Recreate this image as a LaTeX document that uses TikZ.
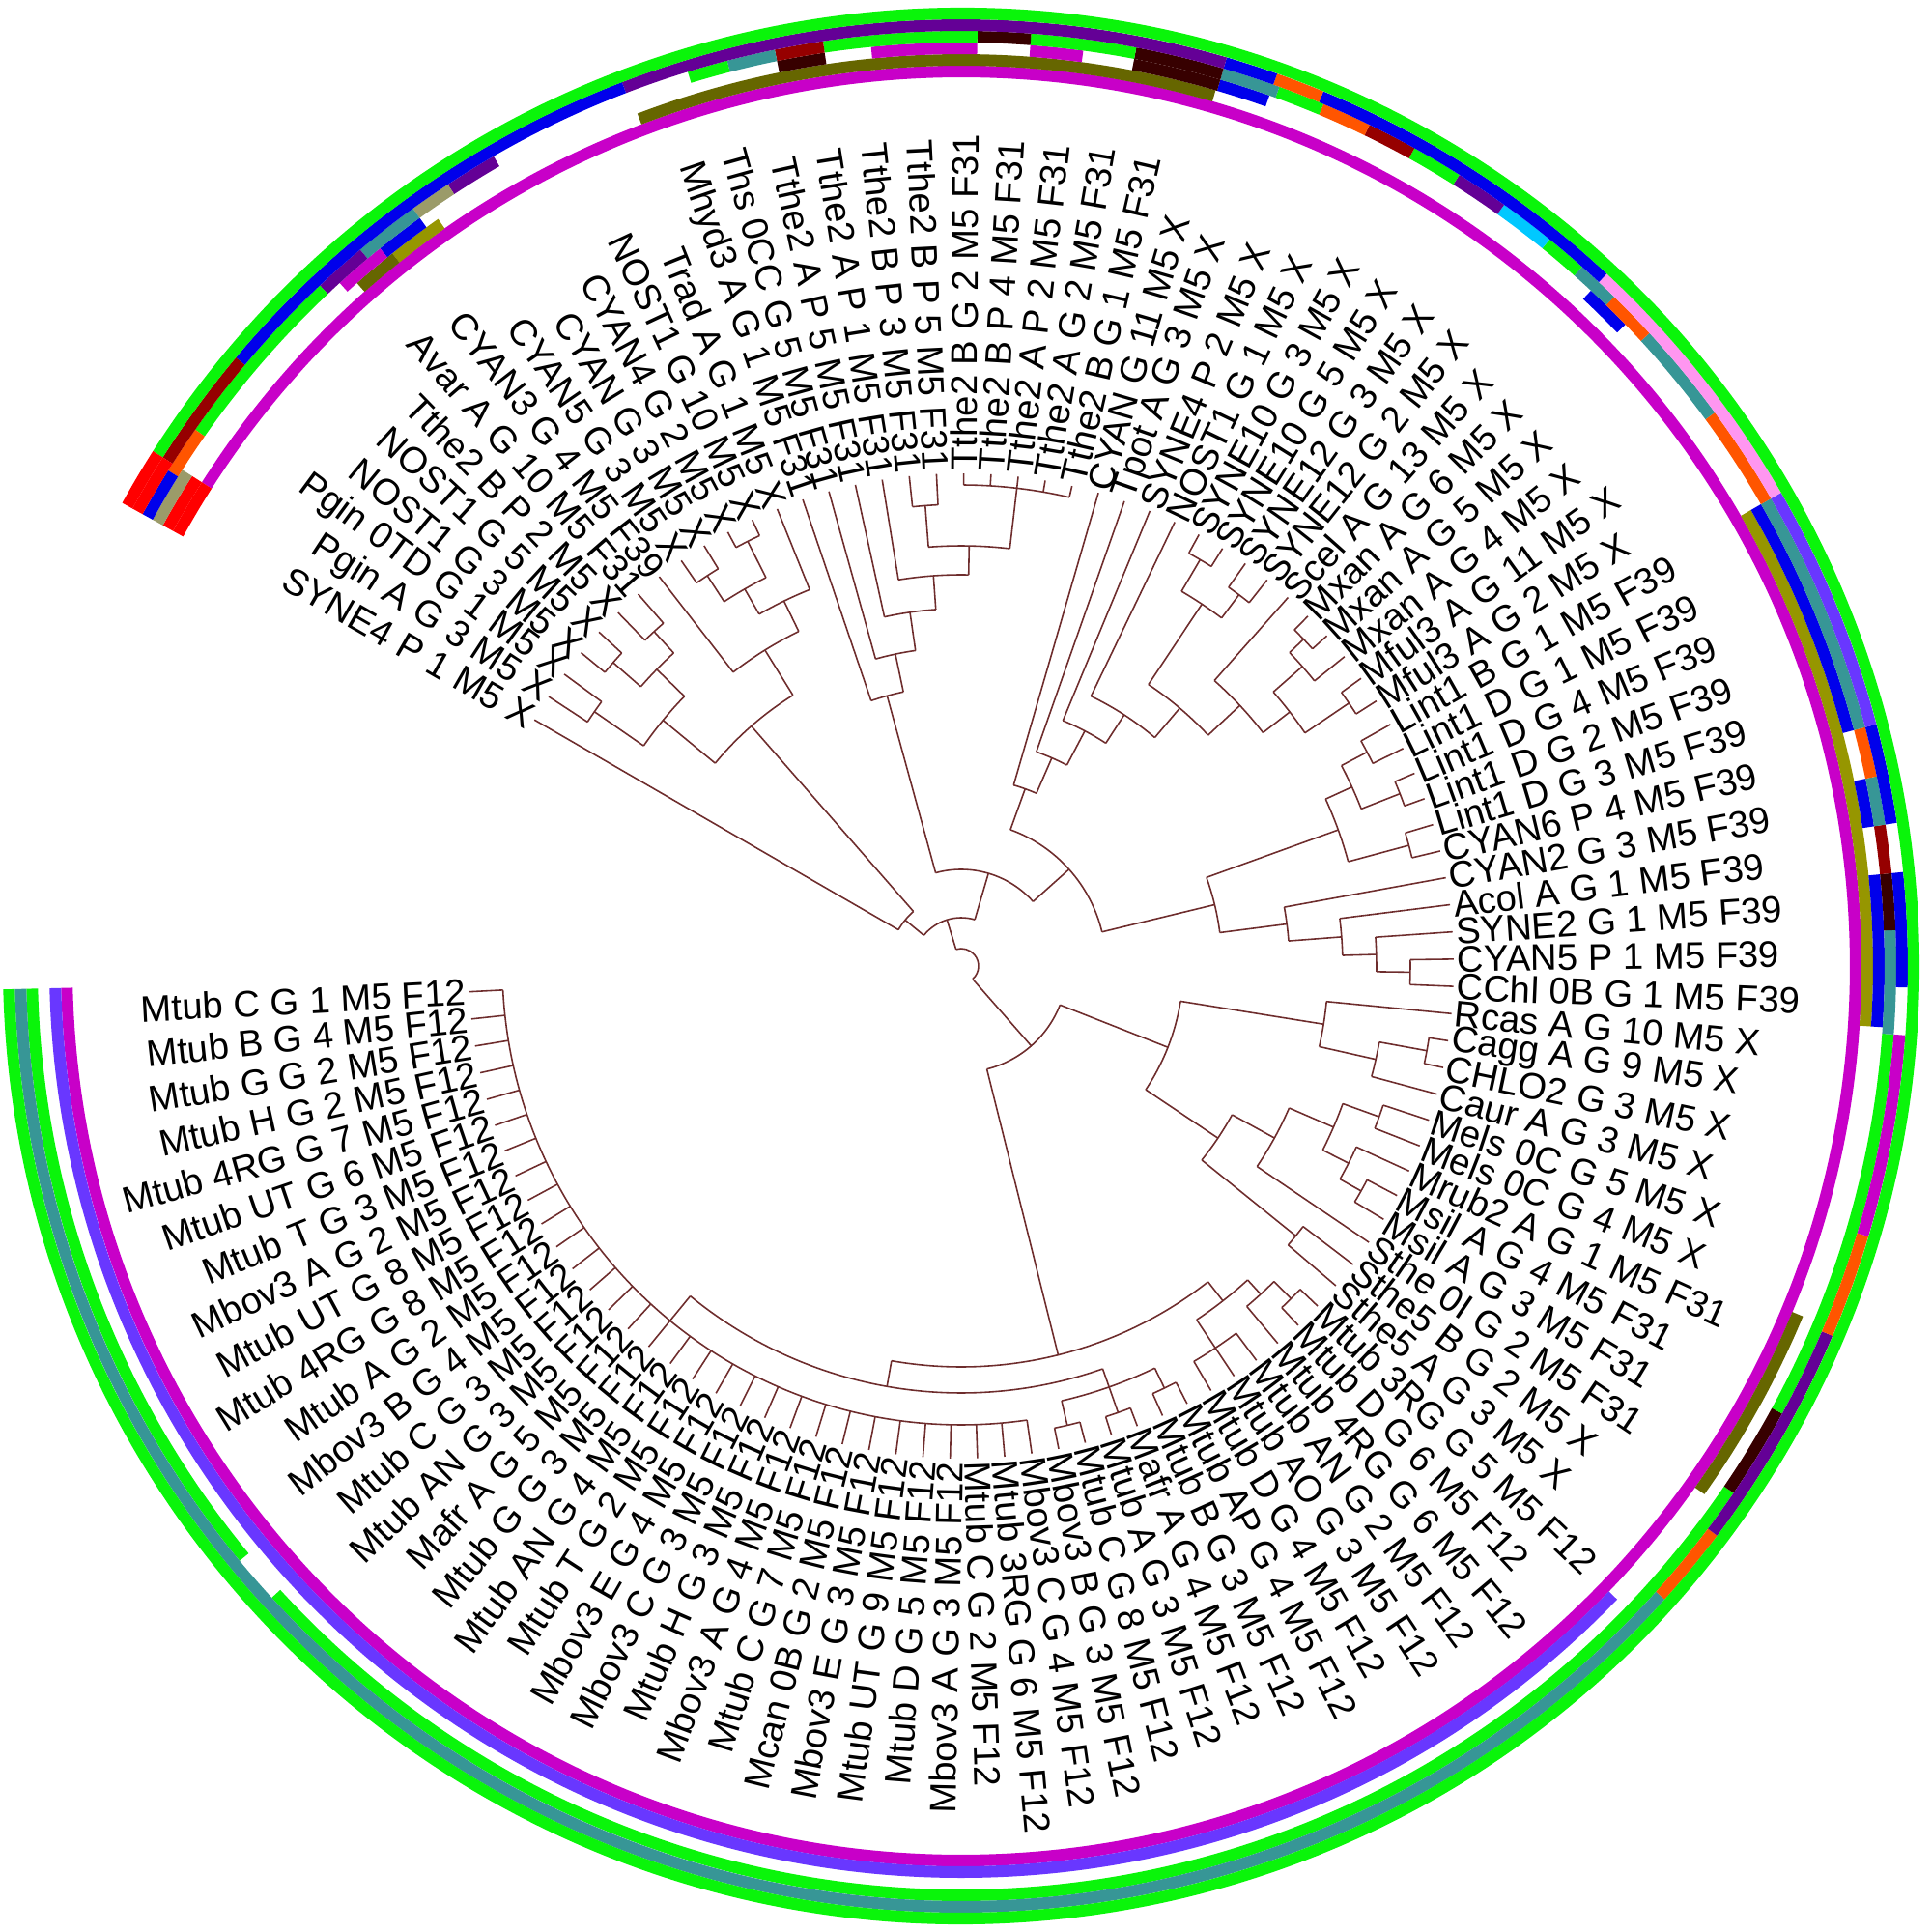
\documentclass[tikz,border=0pt]{standalone}
\usepackage{fontspec}
\setmainfont{Liberation Sans}

\definecolor{treebrown}{RGB}{110,45,45}
\definecolor{ringgreen}{RGB}{10,245,10}
\definecolor{ringmag}{RGB}{200,0,200}
\definecolor{ringviolet}{RGB}{105,55,255}
\definecolor{ringteal}{RGB}{55,150,150}
\definecolor{ringolive}{RGB}{102,102,0}
\definecolor{ringolivel}{RGB}{150,150,0}
\definecolor{ringpurple}{RGB}{100,0,150}
\definecolor{ringblue}{RGB}{0,0,235}
\definecolor{ringorange}{RGB}{255,85,0}
\definecolor{ringmaroon}{RGB}{150,0,0}
\definecolor{ringdark}{RGB}{55,0,0}
\definecolor{ringpink}{RGB}{255,150,240}
\definecolor{ringcyan}{RGB}{0,200,255}
\definecolor{ringkhaki}{RGB}{155,155,105}
\definecolor{ringred}{RGB}{255,0,0}

\tikzset{
  branch/.style={treebrown, line width=0.45pt},
  lbl/.style={inner sep=0.8pt, font=\fontsize{10.9}{12}\selectfont},
}
\def\tipr{5.1}

% leaf: index, label
\newcommand{\leaf}[2]{%
  \pgfmathsetmacro\ang{183+(#1-1)*3.175}%
  \expandafter\xdef\csname angXl#1\endcsname{\ang}%
  \coordinate (l#1) at (\ang:\tipr);
  \pgfmathtruncatemacro\flip{(\ang<270)||(\ang>450)}%
  \ifnum\flip=1
    \pgfmathsetmacro\rot{\ang-180}%
    \node[lbl,anchor=east,rotate=\rot] (L#1) at (l#1) {#2};
  \else
    \node[lbl,anchor=west,rotate=\ang] (L#1) at (l#1) {#2};
  \fi
}
% clade: name, radius, children
\newcommand{\clade}[3]{%
  \foreach \c [count=\k] in {#3} {\ifnum\k=1 \xdef\cfirst{\c}\fi \xdef\clast{\c}}%
  \pgfmathsetmacro\aA{\csname angX\cfirst\endcsname}%
  \pgfmathsetmacro\aB{\csname angX\clast\endcsname}%
  \pgfmathsetmacro\aM{(\aA+\aB)/2}%
  \expandafter\xdef\csname angX#1\endcsname{\aM}%
  \coordinate (#1) at (\aM:#2);
  \draw[branch] (\aA:#2) arc[start angle=\aA, end angle=\aB, radius=#2];
  \foreach \c in {#3} {%
    \pgfmathsetmacro\aC{\csname angX\c\endcsname}%
    \draw[branch] (\aC:#2) -- (\c);
  }%
}
% ring cell: track, from, to, colour
\newcommand{\trk}[4]{%
  \pgfmathsetmacro\ri{9.08+#1*0.12}%
  \pgfmathsetmacro\ro{\ri+0.12}%
  \fill[#4] (#2:\ri) arc[start angle=#2, end angle=#3, radius=\ri] -- (#3:\ro) arc[start angle=#3, end angle=#2, radius=\ro] -- cycle;
}

\begin{document}
\begin{tikzpicture}
\useasboundingbox (-9.95,-10) rectangle (10.05,10);

% rings
\trk{1}{181.4}{507.5}{ringmag}
\trk{1}{507.5}{511.1}{ringred}

\trk{2}{181.4}{316}{ringviolet}
\trk{2}{324.6}{337.4}{ringolive}
\trk{2}{356.2}{390}{ringolivel}
\trk{2}{433.8}{470.8}{ringolive}
\trk{2}{485}{488.6}{ringolivel}
\trk{2}{488.6}{491.5}{ringolive}
\trk{2}{507.5}{511.1}{ringred}

\trk{3}{356.2}{365.7}{ringblue}
\trk{3}{368.7}{371.7}{ringblue}
\trk{3}{374.8}{390}{ringblue}
\trk{3}{404}{407}{ringblue}
\trk{3}{430.5}{433.7}{ringblue}
\trk{3}{433.7}{439.2}{ringdark}
\trk{3}{442.4}{445.7}{ringmag}
\trk{3}{449}{455.6}{ringmag}
\trk{3}{458.5}{461.5}{ringdark}
\trk{3}{485.9}{489}{ringblue}
\trk{3}{489}{492.3}{ringmag}
\trk{3}{507.5}{511.1}{ringkhaki}

\trk{4}{181.4}{219.5}{ringgreen}
\trk{4}{222.5}{325.7}{ringgreen}
\trk{4}{325.7}{331.4}{ringdark}
\trk{4}{331.4}{355.8}{ringgreen}
\trk{4}{355.8}{362.2}{ringteal}
\trk{4}{362.2}{365.7}{ringdark}
\trk{4}{365.7}{368.7}{ringmaroon}
\trk{4}{368.7}{371.7}{ringteal}
\trk{4}{371.7}{374.8}{ringorange}
\trk{4}{374.8}{390}{ringteal}
\trk{4}{390}{396.3}{ringorange}
\trk{4}{396.3}{402.6}{ringteal}
\trk{4}{402.6}{405.7}{ringorange}
\trk{4}{405.7}{408.4}{ringteal}
\trk{4}{408.4}{411}{ringgreen}
\trk{4}{411}{414.5}{ringcyan}
\trk{4}{414.5}{417.8}{ringpurple}
\trk{4}{417.8}{421}{ringgreen}
\trk{4}{421}{424.1}{ringmaroon}
\trk{4}{424.1}{427.2}{ringorange}
\trk{4}{427.2}{430.1}{ringgreen}
\trk{4}{430.1}{433.7}{ringteal}
\trk{4}{433.7}{439.2}{ringdark}
\trk{4}{439.2}{445.7}{ringgreen}
\trk{4}{445.7}{449}{ringdark}
\trk{4}{449}{458.5}{ringgreen}
\trk{4}{458.5}{461.5}{ringmaroon}
\trk{4}{461.5}{464.5}{ringteal}
\trk{4}{464.5}{467}{ringgreen}
\trk{4}{480}{483.3}{ringpurple}
\trk{4}{483.3}{485.9}{ringkhaki}
\trk{4}{485.9}{490}{ringteal}
\trk{4}{490}{493.3}{ringpurple}
\trk{4}{493.3}{505}{ringgreen}
\trk{4}{505}{508}{ringorange}
\trk{4}{508}{511.1}{ringblue}

\trk{5}{181.4}{318}{ringteal}
\trk{5}{318}{323}{ringorange}
\trk{5}{323}{337}{ringpurple}
\trk{5}{337}{343.4}{ringorange}
\trk{5}{343.4}{355.8}{ringmag}
\trk{5}{358.7}{365.7}{ringblue}
\trk{5}{368.7}{374.8}{ringblue}
\trk{5}{374.8}{390}{ringviolet}
\trk{5}{390}{407}{ringpink}
\trk{5}{407}{427.5}{ringblue}
\trk{5}{427.5}{430.5}{ringorange}
\trk{5}{430.5}{433.7}{ringblue}
\trk{5}{433.7}{471}{ringpurple}
\trk{5}{471}{500}{ringblue}
\trk{5}{500}{507.5}{ringmaroon}
\trk{5}{507.5}{511.1}{ringred}

\trk{6}{181.4}{507.5}{ringgreen}
\trk{6}{507.5}{511.1}{ringred}

% leaves
\leaf{1}{Mtub C G 1 M5 F12}
\leaf{2}{Mtub B G 4 M5 F12}
\leaf{3}{Mtub G G 2 M5 F12}
\leaf{4}{Mtub H G 2 M5 F12}
\leaf{5}{Mtub 4RG G 7 M5 F12}
\leaf{6}{Mtub UT G 6 M5 F12}
\leaf{7}{Mtub T G 3 M5 F12}
\leaf{8}{Mbov3 A G 2 M5 F12}
\leaf{9}{Mtub UT G 8 M5 F12}
\leaf{10}{Mtub 4RG G 8 M5 F12}
\leaf{11}{Mtub A G 2 M5 F12}
\leaf{12}{Mbov3 B G 4 M5 F12}
\leaf{13}{Mtub C G 3 M5 F12}
\leaf{14}{Mtub AN G 3 M5 F12}
\leaf{15}{Mafr A G 5 M5 F12}
\leaf{16}{Mtub G G 3 M5 F12}
\leaf{17}{Mtub AN G 4 M5 F12}
\leaf{18}{Mtub T G 2 M5 F12}
\leaf{19}{Mbov3 E G 4 M5 F12}
\leaf{20}{Mbov3 C G 3 M5 F12}
\leaf{21}{Mtub H G 3 M5 F12}
\leaf{22}{Mbov3 A G 4 M5 F12}
\leaf{23}{Mtub C G 7 M5 F12}
\leaf{24}{Mcan 0B G 2 M5 F12}
\leaf{25}{Mbov3 E G 3 M5 F12}
\leaf{26}{Mtub UT G 9 M5 F12}
\leaf{27}{Mtub D G 5 M5 F12}
\leaf{28}{Mbov3 A G 3 M5 F12}
\leaf{29}{Mtub C G 2 M5 F12}
\leaf{30}{Mtub 3RG G 6 M5 F12}
\leaf{31}{Mbov3 C G 4 M5 F12}
\leaf{32}{Mbov3 B G 3 M5 F12}
\leaf{33}{Mtub C G 8 M5 F12}
\leaf{34}{Mtub A G 3 M5 F12}
\leaf{35}{Mafr A G 4 M5 F12}
\leaf{36}{Mtub B G 3 M5 F12}
\leaf{37}{Mtub AP G 4 M5 F12}
\leaf{38}{Mtub D G 4 M5 F12}
\leaf{39}{Mtub AO G 3 M5 F12}
\leaf{40}{Mtub AN G 2 M5 F12}
\leaf{41}{Mtub 4RG G 6 M5 F12}
\leaf{42}{Mtub D G 6 M5 F12}
\leaf{43}{Mtub 3RG G 5 M5 F12}
\leaf{44}{Sthe5 A G 3 M5 X}
\leaf{45}{Sthe5 B G 2 M5 X}
\leaf{46}{Sthe 0I G 2 M5 F31}
\leaf{47}{Msil A G 3 M5 F31}
\leaf{48}{Msil A G 4 M5 F31}
\leaf{49}{Mrub2 A G 1 M5 F31}
\leaf{50}{Mels 0C G 4 M5 X}
\leaf{51}{Mels 0C G 5 M5 X}
\leaf{52}{Caur A G 3 M5 X}
\leaf{53}{CHLO2 G 3 M5 X}
\leaf{54}{Cagg A G 9 M5 X}
\leaf{55}{Rcas A G 10 M5 X}
\leaf{56}{CChl 0B G 1 M5 F39}
\leaf{57}{CYAN5 P 1 M5 F39}
\leaf{58}{SYNE2 G 1 M5 F39}
\leaf{59}{Acol A G 1 M5 F39}
\leaf{60}{CYAN2 G 3 M5 F39}
\leaf{61}{CYAN6 P 4 M5 F39}
\leaf{62}{Lint1 D G 3 M5 F39}
\leaf{63}{Lint1 D G 2 M5 F39}
\leaf{64}{Lint1 D G 4 M5 F39}
\leaf{65}{Lint1 D G 1 M5 F39}
\leaf{66}{Lint1 B G 1 M5 F39}
\leaf{67}{Mful3 A G 2 M5 X}
\leaf{68}{Mful3 A G 11 M5 X}
\leaf{69}{Mxan A G 4 M5 X}
\leaf{70}{Mxan A G 5 M5 X}
\leaf{71}{Mxan A G 6 M5 X}
\leaf{72}{Scel A G 13 M5 X}
\leaf{73}{SYNE12 G 2 M5 X}
\leaf{74}{SYNE12 G 3 M5 X}
\leaf{75}{SYNE10 G 5 M5 X}
\leaf{76}{SYNE10 G 3 M5 X}
\leaf{77}{NOST1 G 1 M5 X}
\leaf{78}{SYNE4 P 2 M5 X}
\leaf{79}{Tpot A G 3 M5 X}
\leaf{80}{CYAN G 11 M5 X}
\leaf{81}{Tthe2 B G 1 M5 F31}
\leaf{82}{Tthe2 A G 2 M5 F31}
\leaf{83}{Tthe2 A P 2 M5 F31}
\leaf{84}{Tthe2 B P 4 M5 F31}
\leaf{85}{Tthe2 B G 2 M5 F31}
\leaf{86}{Tthe2 B P 5 M5 F31}
\leaf{87}{Tthe2 B P 3 M5 F31}
\leaf{88}{Tthe2 A P 1 M5 F31}
\leaf{89}{Tthe2 A P 5 M5 F31}
\leaf{90}{Ths 0CC G 5 M5 F31}
\leaf{91}{Mhyd3 A G 1 M5 F31}
\leaf{92}{Trad A G 1 M5 X}
\leaf{93}{NOST1 G 10 M5 X}
\leaf{94}{CYAN4 G 2 M5 X}
\leaf{95}{CYAN G 3 M5 X}
\leaf{96}{CYAN5 G 3 M5 X}
\leaf{97}{CYAN3 G 4 M5 F39}
\leaf{98}{Avar A G 10 M5 F31}
\leaf{99}{Tthe2 B P 2 M5 X}
\leaf{100}{NOST1 G 5 M5 X}
\leaf{101}{NOST1 G 3 M5 X}
\leaf{102}{Pgin 0TD G 1 M5 X}
\leaf{103}{Pgin A G 3 M5 X}
\leaf{104}{SYNE4 P 1 M5 X}

% Mtub clade
\clade{P1}{4.75}{l1,l2,l3,l4,l5,l6,l7,l8,l9,l10,l11,l12,l13,l14,l15,l16,l17,l18,l19,l20,l21,l22,l23,l24,l25,l26,l27,l28,l29,l30,l31}
\clade{Q1}{4.88}{l32,l33}
\clade{Q2}{4.9}{l34,l35}
\clade{Q3}{4.85}{l36,l37}
\clade{P2}{4.62}{Q1,Q2,Q3}
\clade{M1}{4.42}{P1,P2}
\clade{Q4}{4.75}{l38,l39,l40}
\clade{Q5}{4.85}{l42,l43}
\clade{Q6}{4.6}{l41,Q5}
\clade{P3}{4.4}{Q4,Q6}
\clade{M2}{4.15}{M1,P3}
% Sthe .. Rcas
\clade{S1}{4.45}{l44,l45}
\clade{S2}{4.75}{l47,l48}
\clade{S4}{4.5}{S2,l49}
\clade{S5}{4.6}{l50,l51}
\clade{S6}{4.2}{S4,S5}
\clade{S7}{3.7}{l46,S6}
\clade{S8}{3.2}{S1,S7}
\clade{R1}{4.9}{l53,l54}
\clade{R2}{4.4}{l52,R1}
\clade{R3}{3.8}{R2,l55}
\clade{SG}{2.3}{S8,R3}
\clade{BD}{1.1}{M2,SG}
% CChl .. Lint1
\clade{C1}{4.65}{l56,l57}
\clade{C2}{4.3}{C1,l58}
\clade{C3}{3.95}{C2,l59}
\clade{C4}{3.4}{C3,l60}
\clade{K1}{4.8}{l61,l62}
\clade{K2}{4.88}{l63,l64}
\clade{K3}{4.75}{l65,l66}
\clade{K4}{4.45}{K2,K3}
\clade{K5}{4.15}{K1,K4}
\clade{RG}{2.7}{C4,K5}
% Mful3 .. CYAN G 11
\clade{X1}{4.85}{l67,l68}
\clade{X2}{4.9}{l70,l71}
\clade{X3}{4.7}{l69,X2}
\clade{X4}{4.3}{X1,X3}
\clade{X5}{3.95}{X4,l72}
\clade{Y1}{4.8}{l73,l74}
\clade{Y2}{4.88}{l75,l76}
\clade{Y3}{4.5}{Y1,Y2}
\clade{Y4}{3.5}{X5,Y3}
\clade{Y5}{3.1}{Y4,l77}
\clade{Y6}{2.75}{Y5,l78}
\clade{Y7}{2.35}{Y6,l79}
\clade{TR}{1.95}{Y7,l80}
% Tthe2
\clade{T1}{4.98}{l81,l82,l83,l84,l85}
\clade{T2}{4.78}{l86,l87}
\clade{T4}{4.35}{T1,T2}
\clade{T5}{4.05}{T4,l88}
\clade{T6}{3.7}{T5,l89}
\clade{T7}{3.3}{T6,l90}
\clade{T8}{2.9}{T7,l91}
% Trad .. SYNE4 P 1
\clade{A1}{4.92}{l93,l94}
\clade{A2}{4.82}{l95,l96}
\clade{A3}{4.5}{A1,A2}
\clade{A4}{4.2}{l92,A3}
\clade{A5}{3.85}{A4,l97}
\clade{B1}{4.7}{l98,l99}
\clade{B2}{4.78}{l100,l101}
\clade{B3}{4.4}{B1,B2}
\clade{B4}{4.62}{l102,l103}
\clade{B5}{4.0}{B3,B4}
\clade{TL}{3.3}{A5,B5}
\clade{TL2}{0.75}{TL,l104}
% root
\clade{U1}{1.5}{RG,TR}
\clade{U2}{1.0}{U1,T8}
\clade{U3}{0.5}{U2,TL2}
\clade{root}{0.18}{BD,U3}
\end{tikzpicture}
\end{document}
